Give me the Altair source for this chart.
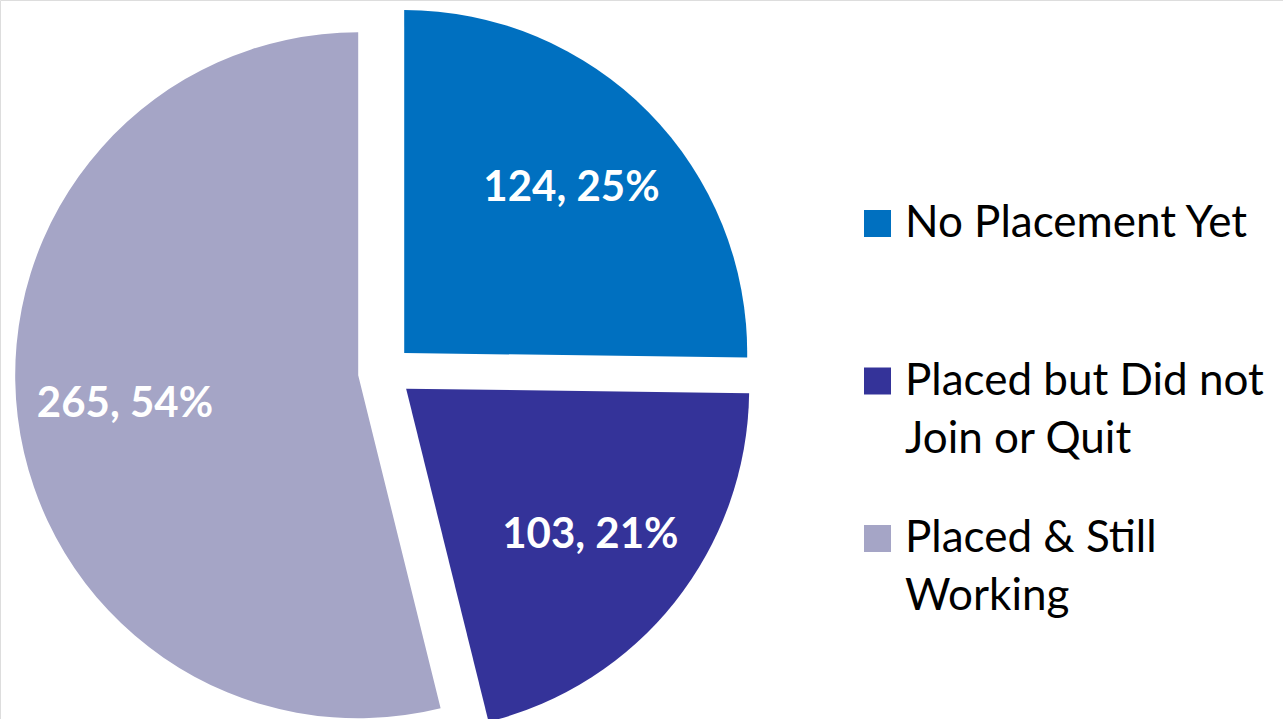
import altair as alt
import pandas as pd

# ---- data ----
categories = ["No Placement Yet", "Placed but  Did not Join or Quit", "Placed & Still Working"]
legend_text = ["No Placement Yet", "Placed but  Did not|Join or Quit", "Placed & Still|Working"]
values = [124, 103, 265]
percents = [25, 21, 54]
colors = ["#0070C0", "#343399", "#A5A5C6"]

# ---- layout constants ----
CX, CY = 385, 372      # pie centre (px)
R = 343                # radius
EXPLODE = 27           # slice explosion distance
LABEL_R = 235          # label distance from slice centre
FONT = "Lato"

df = pd.DataFrame({
    "category": categories,
    "legend": legend_text,
    "value": values,
    "pct": percents,
    "order": list(range(len(categories))),
})
df["label"] = [f"{v}, {p}%" for v, p in zip(values, percents)]

base = (
    alt.Chart(df)
    .transform_joinaggregate(total="sum(value)")
    .transform_window(cum="sum(value)", sort=[alt.SortField("order")], frame=[None, 0])
    .transform_calculate(
        start="2*PI*(datum.cum - datum.value)/datum.total",
        end="2*PI*datum.cum/datum.total",
        mid="PI*(2*datum.cum - datum.value)/datum.total",
    )
    .transform_calculate(
        cx=f"{CX} + {EXPLODE}*sin(datum.mid)",
        cy=f"{CY} - {EXPLODE}*cos(datum.mid)",
    )
    .transform_calculate(
        lx=f"datum.cx + {LABEL_R}*sin(datum.mid)",
        ly=f"datum.cy - {LABEL_R}*cos(datum.mid)",
    )
)

color_scale = alt.Scale(domain=categories, range=colors)

arcs = base.mark_arc(radius=R).encode(
    theta=alt.Theta("start:Q", scale=None),
    theta2="end:Q",
    x=alt.X("cx:Q", scale=None),
    y=alt.Y("cy:Q", scale=None),
    color=alt.Color("category:N", scale=color_scale, legend=None),
)

labels = base.mark_text(
    font=FONT, fontSize=42, fontWeight="bold", color="white",
    align="center", baseline="middle",
).encode(
    x=alt.X("lx:Q", scale=None),
    y=alt.Y("ly:Q", scale=None),
    text="label:N",
)

leg_y = alt.Y("order:Q", scale=alt.Scale(domain=[0, 2], range=[223.5, 538.5]), axis=None)

leg_sq = alt.Chart(df).mark_square(size=729, opacity=1, filled=True).encode(
    x=alt.value(877.5),
    y=leg_y,
    color=alt.Color("category:N", scale=color_scale, legend=None),
)

leg_txt = alt.Chart(df).mark_text(
    font=FONT, fontSize=44, color="black", align="left", baseline="alphabetic",
    dy=13.5, lineBreak="|", lineHeight=58,
).encode(
    x=alt.value(905),
    y=leg_y,
    text="legend:N",
)

chart = (
    alt.layer(arcs, labels, leg_sq, leg_txt)
    .resolve_scale(y="independent", color="shared")
    .properties(width=1283, height=719, autosize=alt.AutoSizeParams(type="none"), padding=0)
    .configure_view(stroke=None)
    .configure(background="white")
)

chart.save("out.html", embed_options={"renderer": "svg", "actions": False})
